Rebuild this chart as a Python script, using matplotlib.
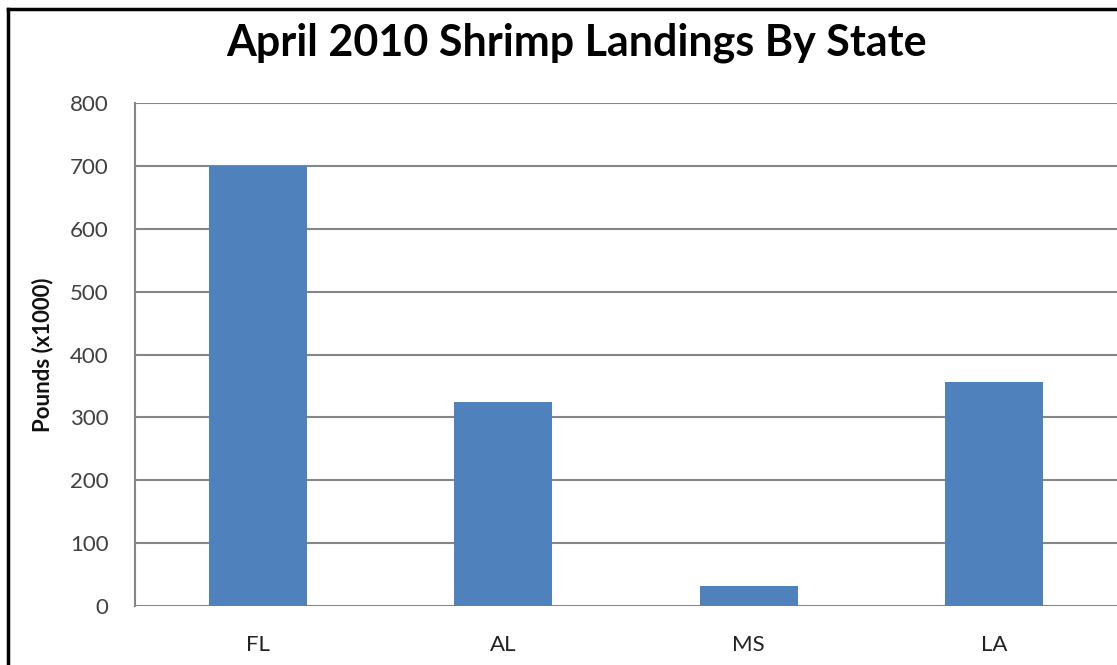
import matplotlib
matplotlib.use('Agg')
import matplotlib.pyplot as plt
from matplotlib.lines import Line2D

states = ['FL', 'AL', 'MS', 'LA']
pounds = [700, 325, 32, 357]
y_ticks = [0, 100, 200, 300, 400, 500, 600, 700, 800]

plt.rcParams['font.family'] = ['Lato', 'DejaVu Sans']

fig = plt.figure(figsize=(11.17, 6.65), dpi=100)
ax = fig.add_axes([0.1209, 0.0887, 0.879, 0.756])

ax.bar(range(len(states)), pounds, width=0.4, color='#4F81BD', zorder=3)
ax.set_xlim(-0.5, 3.5)
ax.set_ylim(0, 800)
ax.set_yticks(y_ticks)
ax.set_xticks(range(len(states)))
ax.set_xticklabels(states)

ax.grid(axis='y', color='#868686', lw=1.5, zorder=0)
for s in ['top', 'right', 'bottom']:
    ax.spines[s].set_visible(False)
ax.spines['left'].set_color('#868686')
ax.spines['left'].set_linewidth(1.5)
ax.tick_params(axis='both', length=0, labelsize=16, colors='#404040')
ax.tick_params(axis='y', pad=19)
ax.tick_params(axis='x', pad=21)
for lbl in ax.get_xticklabels():
    lbl.set_color('#222222')

ax.set_ylabel('Pounds (x1000)', fontsize=16, fontweight='bold', color='#111111', labelpad=12)

fig.text(0.516, 0.936, 'April 2010 Shrimp Landings By State',
         ha='center', va='center', fontsize=31, fontweight='bold', color='black')

# outer frame (left and top edges only visible)
fig.add_artist(Line2D([0.0075, 0.0075], [0, 0.986], color='black', lw=2.5,
                      transform=fig.transFigure))
fig.add_artist(Line2D([0.0075, 1.0], [0.986, 0.986], color='black', lw=2.5,
                      transform=fig.transFigure))

fig.savefig('out.png', dpi=100)
